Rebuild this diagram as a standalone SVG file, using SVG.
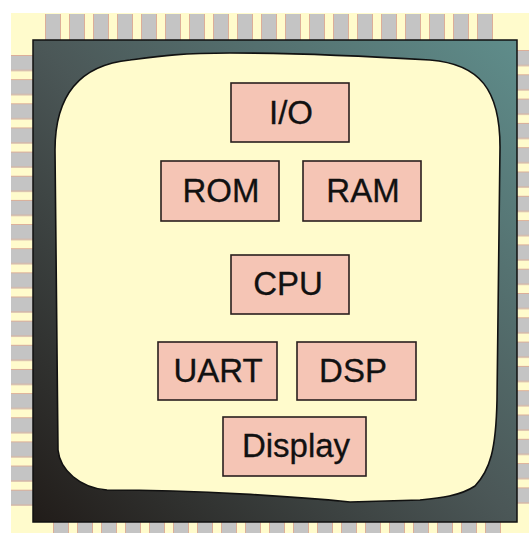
<svg xmlns="http://www.w3.org/2000/svg" width="529" height="533" viewBox="0 0 529 533">
<style>
.box{fill:#f5c5b5;stroke:#2a1f1f;stroke-width:1.6}
.lbl{font-family:"Liberation Sans",Arial,sans-serif;font-size:33px;fill:#111;text-anchor:middle;stroke:#111;stroke-width:0.3}
</style>
<defs>
<pattern id="pinsTop" x="45" y="0" width="24" height="533" patternUnits="userSpaceOnUse">
<rect x="0" y="0" width="16" height="533" fill="#c4c4c4"/>
<path d="M0.5 0V533M15.5 0V533" stroke="#dcae98" stroke-width="1"/>
</pattern>
<pattern id="pinsBottom" x="53" y="0" width="24" height="533" patternUnits="userSpaceOnUse">
<rect x="0" y="0" width="16" height="533" fill="#c4c4c4"/>
<path d="M0.5 0V533M15.5 0V533" stroke="#dcae98" stroke-width="1"/>
</pattern>
<pattern id="pinsLeft" x="0" y="55" width="529" height="24.15" patternUnits="userSpaceOnUse">
<rect x="0" y="0" width="529" height="16" fill="#c4c4c4"/>
<path d="M0 0.5H529M0 15.5H529" stroke="#dcae98" stroke-width="1"/>
</pattern>
<pattern id="pinsRight" x="0" y="50" width="529" height="24.3" patternUnits="userSpaceOnUse">
<rect x="0" y="0" width="529" height="16" fill="#c4c4c4"/>
<path d="M0 0.5H529M0 15.5H529" stroke="#dcae98" stroke-width="1"/>
</pattern>
<linearGradient id="body" x1="0" y1="1" x2="1" y2="0">
<stop offset="0" stop-color="#211c19"/>
<stop offset="0.5" stop-color="#4b5757"/>
<stop offset="1" stop-color="#5f8d8b"/>
</linearGradient>
</defs>
<rect x="0" y="0" width="529" height="533" fill="#ffffff"/>
<rect x="11" y="13" width="518" height="520" fill="#fffbcc"/>
<g id="pins">
<rect x="45" y="14" width="448" height="27" fill="url(#pinsTop)"/>
<rect x="53" y="521" width="449" height="12" fill="url(#pinsBottom)"/>
<rect x="11" y="55" width="23" height="451" fill="url(#pinsLeft)"/>
<rect x="516" y="50" width="13" height="454" fill="url(#pinsRight)"/>
</g>
<g id="chip">
<rect x="33" y="40" width="484" height="482" fill="url(#body)" stroke="#111" stroke-width="1.5"/>
<path d="M55 150C55 95 80 65 130 60C160 56 180 53 230 53C300 53 380 57 430 60C480 64 500 90 500 147L497 400C496 450 490 470 475 486C460 496 440 498 420 500L350 502C300 497 200 490 107 490C80 488 60 470 58 450Z" fill="#fffbcc" stroke="#111" stroke-width="1.6"/>
</g>
<g id="connectors"/>
<g id="io"><rect class="box" x="231" y="83" width="118" height="59"/><text class="lbl" x="291" y="124">I/O</text></g>
<g id="rom"><rect class="box" x="161" y="161" width="118" height="60"/><text class="lbl" x="221" y="202">ROM</text></g>
<g id="ram"><rect class="box" x="303" y="161" width="118" height="60"/><text class="lbl" x="363" y="202">RAM</text></g>
<g id="cpu"><rect class="box" x="231" y="255" width="118" height="59"/><text class="lbl" x="288" y="295">CPU</text></g>
<g id="uart"><rect class="box" x="158" y="342" width="119" height="58"/><text class="lbl" x="218" y="382">UART</text></g>
<g id="dsp"><rect class="box" x="297" y="342" width="119" height="58"/><text class="lbl" x="353" y="382">DSP</text></g>
<g id="display"><rect class="box" x="223" y="417" width="143" height="59"/><text class="lbl" x="296" y="457">Display</text></g>
</svg>
